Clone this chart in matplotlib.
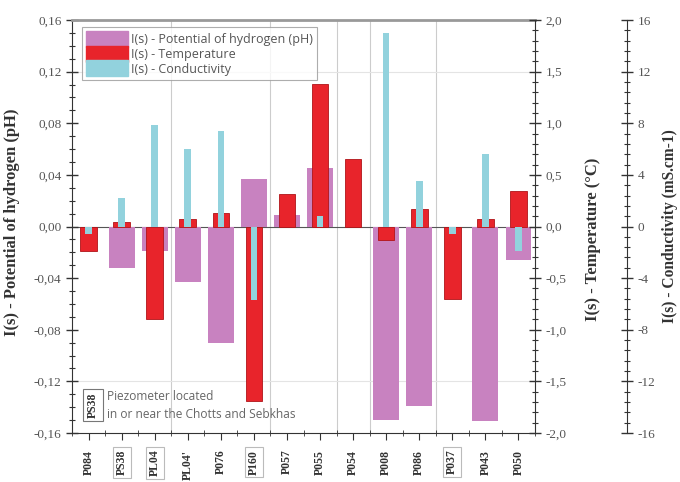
import matplotlib
matplotlib.use("Agg")
import matplotlib.pyplot as plt
from matplotlib.ticker import MultipleLocator, FuncFormatter
from matplotlib.patches import Patch
import numpy as np

stations = ["P084", "PS38", "PL04", "PL04'", "P076", "P160", "P057", "P055",
            "P054", "P008", "P086", "P037", "P043", "P050"]
boxed = ["PS38", "PL04", "P160", "P037"]
ph_vals = [0.0, -0.032, -0.019, -0.043, -0.090, 0.037, 0.009, 0.045,
           0.0, -0.150, -0.139, 0.0, -0.151, -0.026]
temp_vals = [-0.24, 0.04, -0.90, 0.07, 0.13, -1.69, 0.31, 1.38,
             0.65, -0.13, 0.17, -0.70, 0.07, 0.34]
cond_vals = [-0.6, 2.2, 7.9, 6.0, 7.4, -5.7, 0.0, 0.8,
             0.0, 15.0, 3.5, -0.6, 5.6, -1.9]
grid_after = [2, 5, 7, 8, 10]

c_ph = "#c882c0"
c_temp = "#e8242b"
c_cond = "#92d2dd"
serif = "Liberation Serif"
sans = "Open Sans"

fig = plt.figure(figsize=(6.8, 4.82), dpi=100)
ax = fig.add_axes([72/680, 1-433/482, 463/680, 413/482])
ax2 = ax.twinx()
ax3 = ax.twinx()

x = np.arange(len(stations))
ax.bar(x, ph_vals, width=0.78, color=c_ph, zorder=2)
ax2.bar(x, temp_vals, width=0.5, color=c_temp, edgecolor="#b01418", linewidth=0.6, zorder=2)
ax3.bar(x, cond_vals, width=0.2, color=c_cond, zorder=2)

ax.set_xlim(-0.5, len(stations)-0.5)
ax.set_ylim(-0.16, 0.16)
ax2.set_ylim(-2.0, 2.0)
ax3.set_ylim(-16, 16)

# grid
for b in grid_after:
    ax.axvline(b+0.5, color="#cccccc", lw=0.8, zorder=0)
for yv in (-0.12, 0.12):
    ax.axhline(yv, color="#e4e4e4", lw=0.8, zorder=0)
ax.axhline(0, color="#555555", lw=0.8, zorder=1)

# spines
for s in ["left", "bottom"]:
    ax.spines[s].set_color("#333333")
ax.spines["right"].set_visible(False)
ax.spines["top"].set_color("#999999")
ax.spines["top"].set_linewidth(2)
for s in ["left", "top", "bottom"]:
    ax2.spines[s].set_visible(False)
    ax3.spines[s].set_visible(False)
ax2.spines["right"].set_color("#333333")
ax3.spines["right"].set_position(("axes", 1 + 92/463))
ax3.spines["right"].set_color("#333333")

# y ticks
ax.yaxis.set_major_locator(MultipleLocator(0.04))
ax.yaxis.set_minor_locator(MultipleLocator(0.01))
ax.yaxis.set_major_formatter(FuncFormatter(lambda v, p: f"{v:.2f}".replace(".", ",").replace("-0,00", "0,00")))
ax2.yaxis.set_major_locator(MultipleLocator(0.5))
ax2.yaxis.set_minor_locator(MultipleLocator(0.1))
ax2.yaxis.set_major_formatter(FuncFormatter(lambda v, p: f"{v:.1f}".replace(".", ",").replace("-0,0", "0,0")))
ax3.yaxis.set_major_locator(MultipleLocator(4))
ax3.yaxis.set_minor_locator(MultipleLocator(0.8))
ax3.yaxis.set_major_formatter(FuncFormatter(lambda v, p: "0" if abs(v) < 0.5 else f"{v:.0f}"))

for a in (ax, ax2, ax3):
    a.tick_params(axis="y", which="major", direction="inout", length=8, width=1, color="#333333",
                  labelsize=9.5, labelcolor="#555555")
    a.tick_params(axis="y", which="minor", direction="inout", length=5, width=0.8, color="#333333")
    for lab in a.get_yticklabels():
        lab.set_fontfamily(serif)

# x ticks
ax.set_xticks(x)
ax.set_xticks(np.arange(len(stations)+1)-0.5, minor=True)
ax.set_xticklabels(stations, rotation=90, fontsize=8.5, fontweight="bold",
                   fontfamily=serif, color="#333333")
ax.tick_params(axis="x", which="major", direction="out", length=5, color="#333333", pad=7)
ax.tick_params(axis="x", which="minor", direction="inout", length=5, color="#333333")
for lab in ax.get_xticklabels():
    if lab.get_text() in boxed:
        lab.set_bbox(dict(boxstyle="square,pad=0.25", fc="none", ec="#bbbbbb", lw=0.8))

# axis labels
lab_kw = dict(fontsize=12, fontweight="bold", fontfamily=serif, color="#333333")
ax.set_ylabel("I(s) - Potential of hydrogen (pH)", **lab_kw)
ax.yaxis.set_label_coords(-0.112, 0.51)
ax2.set_ylabel("I(s) - Temperature (°C)", **lab_kw)
ax2.yaxis.set_label_coords(1.108, 0.47)
ax3.set_ylabel("I(s) - Conductivity (mS.cm-1)", fontsize=11.2, fontweight="bold",
               fontfamily=serif, color="#333333")
ax3.yaxis.set_label_coords(1.275, 0.5)

# legend
handles = [Patch(color=c_ph), Patch(color=c_temp), Patch(color=c_cond)]
labels = ["I(s) - Potential of hydrogen (pH)", "I(s) - Temperature", "I(s) - Conductivity"]
leg = ax3.legend(handles, labels, loc="upper left", bbox_to_anchor=(0.022, 0.983),
                 frameon=True, fancybox=False, handlelength=3.4, handleheight=1.6,
                 labelspacing=-0.1, handletextpad=0.2, borderpad=0.3, borderaxespad=0,
                 prop={"family": sans, "size": 9})
leg.get_frame().set_edgecolor("#999999")
leg.get_frame().set_linewidth(0.8)
for t in leg.get_texts():
    t.set_color("#555555")

# annotation
fig.text(93/680, 1-405/482, "PS38", rotation=90, ha="center", va="center", fontsize=8.5,
         fontweight="bold", fontfamily=serif, color="#333333",
         bbox=dict(boxstyle="square,pad=0.3", fc="white", ec="#777777", lw=0.8))
fig.text(107/680, 1-396/482, "Piezometer located", ha="left", va="center", fontsize=8.6,
         fontfamily=sans, color="#666666")
fig.text(107/680, 1-414/482, "in or near the Chotts and Sebkhas", ha="left", va="center", fontsize=8.6,
         fontfamily=sans, color="#666666")

fig.savefig("out.png", dpi=100)
